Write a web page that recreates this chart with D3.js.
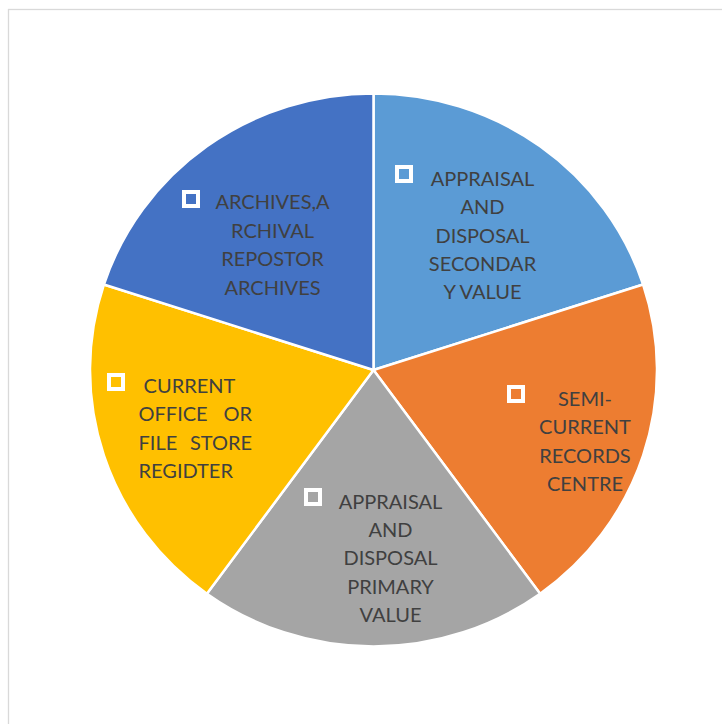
<!DOCTYPE html>
<html>
<head>
<meta charset="utf-8">
<script src="https://cdnjs.cloudflare.com/ajax/libs/d3/7.8.5/d3.min.js"></script>
<style>
  body { margin: 0; background: #fff; }
  #container { width: 722px; height: 724px; }
  text { font-family: Lato, "Open Sans", sans-serif; fill: #404040; font-size: 20px; }
</style>
</head>
<body>
<div id="container"></div>
<script>
var width = 722;
var height = 724;

// data
var categories = [
  "APPRAISAL AND DISPOSAL SECONDARY VALUE",
  "SEMI-CURRENT RECORDS CENTRE",
  "APPRAISAL AND DISPOSAL PRIMARY VALUE",
  "CURRENT OFFICE OR FILE STORE REGIDTER",
  "ARCHIVES,ARCHIVAL REPOSTOR ARCHIVES"
];
var values = [1, 1, 1, 1, 1];
var labelLines = [
  ["APPRAISAL", "AND", "DISPOSAL", "SECONDAR", "Y VALUE"],
  ["SEMI-", "CURRENT", "RECORDS", "CENTRE"],
  ["APPRAISAL", "AND", "DISPOSAL", "PRIMARY", "VALUE"],
  [" CURRENT", "OFFICE OR", "FILE STORE", "REGIDTER"],
  ["ARCHIVES,A", "RCHIVAL", "REPOSTOR", "ARCHIVES"]
];
var colors = ["#5B9BD5", "#ED7D31", "#A5A5A5", "#FFC000", "#4472C4"];

// layout of the data labels (hand placed, like the original)
var labelLayout = [
  { mx: 404, my: 174, x: 482.5, y: 185.7, align: "middle" },
  { mx: 516, my: 394, x: 585, y: 405.7, align: "middle" },
  { mx: 313, my: 497, x: 390.5, y: 508.5, align: "middle" },
  { mx: 116, my: 382, x: 138.5, y: 392.7, align: "justify", right: 252 },
  { mx: 191, my: 199, x: 272.5, y: 209.3, align: "middle" }
];
var lineHeight = 28.4;

var cx = 373.5, cy = 370;
var radius = 283.5;
var yScale = 276.5 / radius;

var svg = d3.select("#container")
  .append("svg")
  .attr("width", width)
  .attr("height", height);

// chart frame
svg.append("rect")
  .attr("x", 8.5)
  .attr("y", 9.5)
  .attr("width", width + 10)
  .attr("height", height + 10)
  .style("fill", "#fff")
  .style("stroke", "#d9d9d9")
  .style("stroke-width", 1.3);

var pie = d3.pie()
  .sort(null)
  .value(function(d) { return d; });

var arc = d3.arc()
  .innerRadius(0)
  .outerRadius(radius);

var g = svg.append("g")
  .attr("transform", "translate(" + cx + "," + cy + ")scale(1," + yScale + ")");

g.selectAll("path")
  .data(pie(values))
  .enter().append("path")
  .attr("d", arc)
  .style("fill", function(d, i) { return colors[i]; })
  .style("stroke", "#fff")
  .style("stroke-width", 2.5)
  .style("stroke-linejoin", "round")
  .attr("vector-effect", "non-scaling-stroke")
  .append("title")
  .text(function(d, i) { return categories[i]; });

// labels
var labels = svg.append("g").attr("class", "labels");

labelLayout.forEach(function(L, i) {
  labels.append("rect")
    .attr("x", L.mx - 7)
    .attr("y", L.my - 7)
    .attr("width", 14)
    .attr("height", 14)
    .style("fill", "none")
    .style("stroke", "#fff")
    .style("stroke-width", 4);

  labelLines[i].forEach(function(line, j) {
    var y = L.y + j * lineHeight;
    var words = line.trim().split(" ");
    if (L.align === "justify" && words.length > 1) {
      labels.append("text")
        .attr("x", L.x).attr("y", y)
        .text(words[0]);
      labels.append("text")
        .attr("x", L.right).attr("y", y)
        .attr("text-anchor", "end")
        .text(words[words.length - 1]);
    } else {
      labels.append("text")
        .attr("x", L.x).attr("y", y)
        .attr("text-anchor", L.align === "justify" ? "start" : "middle")
        .attr("xml:space", "preserve")
        .style("white-space", "pre")
        .text(line);
    }
  });
});
</script>
</body>
</html>
